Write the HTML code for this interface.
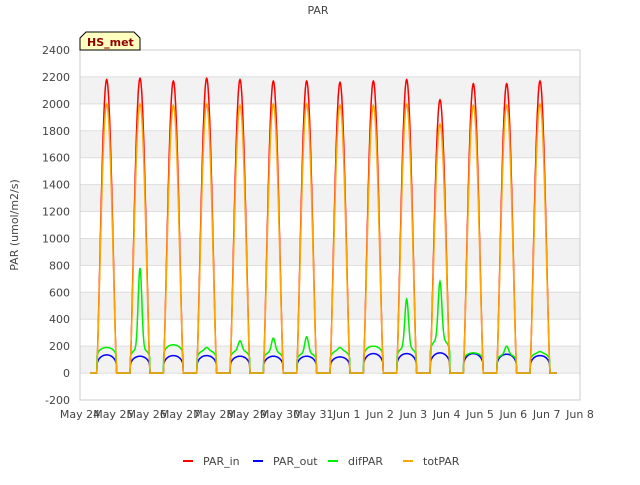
<!DOCTYPE html>
<html><head><meta charset="utf-8"><style>
body{margin:0;background:#fff;font-family:"Liberation Sans",sans-serif;}
svg text{font-family:"DejaVu Sans","Liberation Sans",sans-serif;font-size:11px;fill:#444;}
</style></head><body>
<svg id="c" width="640" height="480" xmlns="http://www.w3.org/2000/svg">
<text x="318" y="14" text-anchor="middle" font-size="13">PAR</text>
<g id="grid"></g>
<g id="series"></g>
<g id="axes"></g>
<text transform="translate(18,225) rotate(-90)" text-anchor="middle">PAR (umol/m2/s)</text>
<g>
<path d="M80,50 L80,38 L86,32 L134,32 L140,38 L140,50 Z" fill="#ffffc0" stroke="#000"/>
<text x="87" y="46" font-weight="bold" style="fill:#8b0000;font-size:11px">HS_met</text>
</g>
<g id="legend"></g>
</svg>
<script>
const ticksY=[-200,0,200,400,600,800,1000,1200,1400,1600,1800,2000,2200,2400];
const tickX=["May 24","May 25","May 26","May 27","May 28","May 29","May 30","May 31","Jun 1","Jun 2","Jun 3","Jun 4","Jun 5","Jun 6","Jun 7","Jun 8"];
const parInPeaks=[2180,2190,2170,2190,2180,2170,2170,2160,2170,2180,2030,2150,2150,2170];
const totPeaks=[2000,2000,1990,2000,1990,2000,2000,1990,1990,2000,1850,1990,1990,2000];
const difPeaks=[190,780,210,190,240,260,270,190,200,550,680,150,200,160];
const difBase=[190,180,210,170,170,160,150,170,200,190,250,150,140,150];
const outPeaks=[135,125,130,130,125,125,125,120,145,145,150,145,140,130];
const svg=document.getElementById('c'),NS="http://www.w3.org/2000/svg";
const X0=80,X1=580,Y0=400,Y1=50;
const xs=d=>X0+(d/15)*(X1-X0);
const ys=v=>Y0-(v+200)/2600*(Y0-Y1);
function mk(t,a,p){const e=document.createElementNS(NS,t);for(const k in a)e.setAttribute(k,a[k]);p.appendChild(e);return e;}
const grid=document.getElementById('grid'),axes=document.getElementById('axes');
for(let i=0;i<ticksY.length-1;i++){const v=ticksY[i];
 if(v>=0&&(v/200)%2==0){const r=mk('rect',{x:X0,y:ys(v+200),width:X1-X0,height:ys(v)-ys(v+200),fill:'#f2f2f2'},grid);
 }}
ticksY.forEach(v=>{const l=mk('line',{x1:X0,x2:X1,y1:ys(v),y2:ys(v),stroke:'#ddd'},grid);
 
 const t=mk('text',{x:X0-10,y:ys(v)+4,'text-anchor':'end'},axes);t.textContent=v;
 });
mk('rect',{x:X0,y:Y1,width:X1-X0,height:Y0-Y1,fill:'none',stroke:'#ccc'},axes);
tickX.forEach((s,i)=>{const t=mk('text',{x:xs(i),y:Y0+18,'text-anchor':'middle'},axes);t.textContent=s;
 });
function build(fn){let pts=[];for(let d=0.3;d<=14.3;d+=0.01){const day=Math.floor(d-0.5+1e-9);const f=d-day-0.5;
 let v=0;if(day>=0&&day<14&&f>=0&&f<=0.6)v=fn(day,Math.sin(Math.PI*f/0.6));pts.push(xs(d).toFixed(1)+','+ys(v).toFixed(1));}return pts.join(' ');}
const ser=[
 ['PAR_in','#ff0000',(d,s)=>parInPeaks[d]*Math.pow(s,1.3)],
 ['PAR_out','#0000ff',(d,s)=>outPeaks[d]*Math.pow(s,0.25)],
 ['difPAR','#00ee00',(d,s)=>difBase[d]*Math.pow(s,0.15)+(difPeaks[d]-difBase[d])*Math.pow(s,12)],
 ['totPAR','#ffa500',(d,s)=>totPeaks[d]*Math.pow(s,1.3)]];
const sg=document.getElementById('series'),lg=document.getElementById('legend');
ser.forEach((s,i)=>{const p=mk('polyline',{points:build(s[2]),fill:'none',stroke:s[1],'stroke-width':1.5},sg);
 
 const lx=[183,253,328,403][i];
 const g=mk('g',{},lg);
 mk('line',{x1:lx,x2:lx+10,y1:461,y2:461,stroke:s[1],'stroke-width':2},g);
 const t=mk('text',{x:lx+20,y:465},g);t.textContent=s[0];});
</script>
</body></html>
